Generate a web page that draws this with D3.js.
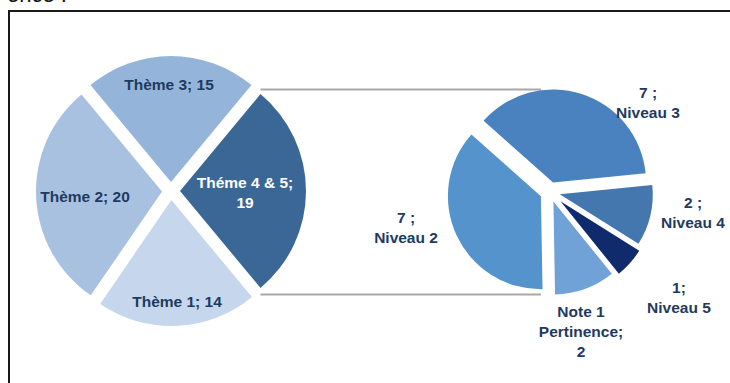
<!DOCTYPE html>
<html>
<head>
<meta charset="utf-8">
<script src="https://cdn.jsdelivr.net/npm/d3@7"></script>
<style>
  html, body { margin: 0; padding: 0; background: #fff; }
  svg { display: block; font-family: "Liberation Sans", Arial, sans-serif; font-weight: bold; }
</style>
</head>
<body>
<svg id="chart" width="730" height="383"></svg>
<script>
// Main pie: themes
const themeNames  = ["Théme 4 & 5", "Thème 1", "Thème 2", "Thème 3"];
const themeValues = [19, 14, 20, 15];
const themeLabelLines = [["Théme 4 & 5;", "{v}"], ["Thème 1; {v}"], ["Thème 2; {v}"], ["Thème 3; {v}"]];
const themeColors = ["#3b6796", "#c6d6ec", "#a9c1e0", "#95b4da"];
const themeLabelColors = ["#ffffff", "#1f3a60", "#1f3a60", "#1f3a60"];
const themeLabelOffsets = [[74, 2], [6, 111], [-86, 6], [-2, -106]];

// Secondary pie: breakdown of "Théme 4 & 5"
const levelNames  = ["Niveau 2", "Niveau 3", "Niveau 4", "Niveau 5", "Note 1 Pertinence"];
const levelValues = [7, 7, 2, 1, 2];
const levelLabelLines = [["{v} ;", "Niveau 2"], ["{v} ;", "Niveau 3"], ["{v} ;", "Niveau 4"], ["{v};", "Niveau 5"], ["Note 1", "Pertinence;", "{v}"]];
const levelColors = ["#5593cd", "#4a82bf", "#4477ad", "#0f2b6b", "#70a2d8"];
const levelExplode = [10, 10, 10, 14, 10];
const levelLabelOffsets = [[-144, 36], [98, -89], [143, 21], [129, 106], [31, 140]];

const svg = d3.select("#chart");

// heading above the frame (only its lower edge falls inside the page)
svg.append("text").attr("x", 7).attr("y", 2).attr("font-size", 22)
  .attr("font-weight", "normal").attr("fill", "#111").text("ence :");

// frame
svg.append("rect").attr("x", 9).attr("y", 11).attr("width", 760).attr("height", 420)
  .attr("fill", "none").attr("stroke", "#1a1a1a").attr("stroke-width", 2);

const deg = Math.PI / 180;

// main pie geometry
const c1 = { x: 171, y: 191 }, r1 = 126, explode1 = 9;
const total1 = d3.sum(themeValues);
const start1 = Math.PI / 2 - (themeValues[0] / total1) * Math.PI; // first slice centred on the right
const pie1 = d3.pie().sort(null).value(d => d).startAngle(start1).endAngle(start1 + 2 * Math.PI);
const arcs1 = pie1(themeValues);
const arc1 = d3.arc().innerRadius(0).outerRadius(r1);

// secondary pie geometry
const c2 = { x: 550, y: 192 }, r2 = 93;
const start2 = 179 * deg;
const pie2 = d3.pie().sort(null).value(d => d).startAngle(start2).endAngle(start2 + 2 * Math.PI);
const arcs2 = pie2(levelValues);
const arc2 = d3.arc().innerRadius(0).outerRadius(r2);

function shift(a, d) {
  const m = (a.startAngle + a.endAngle) / 2;
  return [d * Math.sin(m), -d * Math.cos(m)];
}
function polar(r, angle, off) {
  return [off[0] + r * Math.sin(angle), off[1] - r * Math.cos(angle)];
}

// series lines joining the split slice to the secondary pie
const src = arcs1[0];
const srcOff = shift(src, explode1);
const tipTop = polar(r1, src.startAngle, srcOff);
const tipBot = polar(r1, src.endAngle, srcOff);
const topOff = shift(arcs2[1], levelExplode[1]);
const botOff = shift(arcs2[4], levelExplode[4]);
const leftOff = shift(arcs2[0], levelExplode[0]);
const yTop = c2.y + polar(r2, 0, topOff)[1];
const yBot = c2.y + polar(r2, Math.PI, botOff)[1];
const xEnd = c2.x + leftOff[0];
const lines = [[c1.x + tipTop[0], yTop], [c1.x + tipBot[0], yBot]];
svg.append("g").selectAll("line").data(lines).join("line")
  .attr("x1", d => d[0]).attr("y1", d => d[1])
  .attr("x2", xEnd).attr("y2", d => d[1])
  .attr("stroke", "#a8a8a8").attr("stroke-width", 2);

// main pie slices
const g1 = svg.append("g").attr("transform", `translate(${c1.x},${c1.y})`);
g1.selectAll("path").data(arcs1).join("path")
  .attr("transform", d => `translate(${shift(d, explode1)})`)
  .attr("d", arc1)
  .attr("fill", (d, i) => themeColors[i]);

// secondary pie slices
const g2 = svg.append("g").attr("transform", `translate(${c2.x},${c2.y})`);
g2.selectAll("path").data(arcs2).join("path")
  .attr("transform", (d, i) => `translate(${shift(d, levelExplode[i])})`)
  .attr("d", arc2)
  .attr("fill", (d, i) => levelColors[i]);

// labels
const lineH = 20;
function drawLabels(g, values, linesTpl, offsets, colors) {
  values.forEach((v, i) => {
    const ls = linesTpl[i].map(s => s.replace("{v}", v));
    const t = g.append("text").attr("text-anchor", "middle").attr("font-size", 15.5)
      .attr("fill", Array.isArray(colors) ? colors[i] : colors);
    ls.forEach((s, k) => {
      t.append("tspan").attr("x", offsets[i][0])
        .attr("y", offsets[i][1] + (k - (ls.length - 1) / 2) * lineH + 5)
        .text(s);
    });
  });
}
drawLabels(g1, themeValues, themeLabelLines, themeLabelOffsets, themeLabelColors);
drawLabels(g2, levelValues, levelLabelLines, levelLabelOffsets, "#1f3a60");
</script>
</body>
</html>
